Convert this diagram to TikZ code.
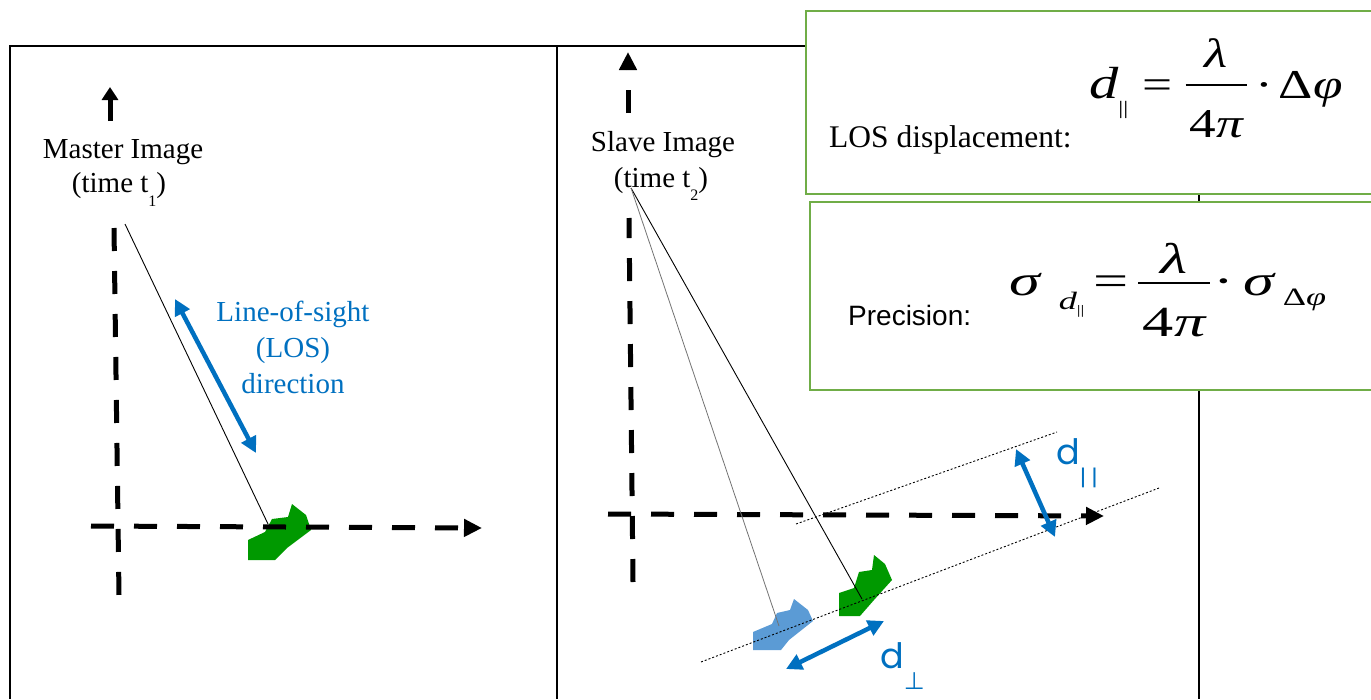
\documentclass[tikz,border=0pt]{standalone}
\usepackage{graphicx}
\usepackage{fontspec}
\setmainfont{Liberation Serif}
\newfontfamily\arialfont{Liberation Sans}
\newfontfamily\gothfont{Poppins}
\newfontfamily\djfont{DejaVu Sans}
\usetikzlibrary{arrows.meta}
\newcommand\fsz[1]{\fontsize{#1}{#1}\selectfont}
% #1 numerator, #2 denominator, #3 numerator raise, #4 denominator drop, #5 bar height
\newcommand\myfrac[5]{\setbox0\hbox{#1}\setbox2\hbox{#2}%
  \dimen0=\ifdim\wd0>\wd2 \wd0\else\wd2\fi
  \advance\dimen0 by 6pt
  \kern2pt\rlap{\raisebox{#3}{\hbox to\dimen0{\hss\box0\hss}}}%
  \rlap{\raisebox{-#4}{\hbox to\dimen0{\hss\box2\hss}}}%
  \raisebox{#5}{\rule{\dimen0}{2pt}}\kern2pt}
\definecolor{losblue}{RGB}{0,112,192}
\definecolor{lightblue}{RGB}{91,155,213}
\definecolor{shapegreen}{RGB}{0,153,0}
\definecolor{boxgreen}{RGB}{112,173,71}
\begin{document}
\begin{tikzpicture}[x=1pt,y=-1pt,
  frame/.style={line width=2.5pt,black},
  axisarrow/.style={line width=5pt,dash pattern=on 23pt off 20pt,-{Triangle[length=18pt,width=17pt]}},
  axisplain/.style={line width=5pt,dash pattern=on 23pt off 20pt},
  sight/.style={line width=0.9pt,black},
  faint/.style={line width=0.8pt,black!55},
  guide/.style={line width=0.9pt,dash pattern=on 2pt off 2pt,black},
  bluearr/.style={line width=4.5pt,losblue,{Triangle[length=16pt,width=16pt]}-{Triangle[length=16pt,width=16pt]}},
  eqbox/.style={draw=boxgreen,line width=2.5pt,fill=white},
  serif/.style={font=\fsz{29},inner sep=0pt},
  bluetext/.style={font=\fsz{29},inner sep=0pt,text=losblue},
]
\useasboundingbox (0,0) rectangle (1371,699);
% frame
\draw[frame] (10,699) -- (10,46) -- (1199,46) -- (1199,699);
\draw[frame] (557,46) -- (557,699);
% shapes
\fill[shapegreen] (248,540) -- (248,560) -- (275,560) -- (287,548) -- (311,530) -- (306,515) -- (292,504) -- (288,517) -- (272,519) -- (265,532) -- cycle;
\fill[shapegreen] (839,593) -- (839,616) -- (860,616) -- (874,600) -- (892,580) -- (885,564) -- (874,555) -- (872,570) -- (859,572) -- (854,588) -- cycle;
\fill[lightblue] (753,632) -- (753,650) -- (781,650) -- (789,640) -- (813,621) -- (808,610) -- (794,599) -- (790,610) -- (777,613) -- (772,624) -- cycle;
% axes
\draw[line width=5pt,-{Triangle[length=13pt,width=16pt]}] (110,121) -- (110,87);
\draw[axisplain] (114,228) -- (119,595);
\draw[axisarrow] (91,526) -- (482,528);
\draw[axisarrow] (628,113) -- (628,52);
\draw[axisplain] (633,582) -- (629,218);
\draw[axisarrow] (608,514) -- (1104,516);
% labels
\node[serif,anchor=base] (master) at (123,158) {Master Image};
\node[serif,anchor=base] (tone) at (119,192) {(time t\raisebox{-14pt}{\fsz{16}1})};
\node[serif,anchor=base] (slave) at (663,151) {Slave Image};
\node[serif,anchor=base] (ttwo) at (661,187) {(time t\raisebox{-13pt}{\fsz{16}2})};
% points
\coordinate (m) at (125,224);
\coordinate (s) at (631,188);
\coordinate (gl) at (268,524);
\coordinate (gr) at (862,599);
\coordinate (bl) at (779,626);
\draw[sight] (m) -- (gl);
\draw[sight] (s) -- (gr);
\draw[faint] (s) -- (bl);
% guides
\coordinate (g1a) at (701,662);
\coordinate (g1b) at (1159,488);
\coordinate (g2a) at (796,524);
\coordinate (g2b) at (1057,432);
\draw[guide] (g1a) -- (g1b);
\draw[guide] (g2a) -- (g2b);
% blue arrows
\coordinate (la1) at (175,299);
\coordinate (la2) at (256,453);
\draw[bluearr] (la1) -- (la2);
\coordinate (pa1) at (1016,449);
\coordinate (pa2) at (1055,537);
\draw[bluearr] (pa1) -- (pa2);
\coordinate (qa1) at (786,669);
\coordinate (qa2) at (884,621);
\draw[bluearr] (qa1) -- (qa2);
\node[bluetext,anchor=base] (los1) at (293,321) {Line-of-sight};
\node[bluetext,anchor=base] (los2) at (293,357) {(LOS)};
\node[bluetext,anchor=base] (los3) at (293,393) {direction};
\node[anchor=base west,inner sep=0pt,text=losblue,font=\gothfont\fsz{35}] (dpar) at (1056,464) {d\raisebox{-21pt}{\fsz{22}|\kern5pt|}};
\node[anchor=base west,inner sep=0pt,text=losblue,font=\gothfont\fsz{35}] (dperp) at (880,668) {d\raisebox{-21pt}{\djfont\fsz{24}⊥}};
% formula boxes
\path[eqbox] (806,11) rectangle (1390,194);
\path[eqbox] (810,202) rectangle (1390,390);
\node[anchor=base west,inner sep=0pt,font=\fsz{31.5}] (losd) at (829,147) {LOS displacement:};
\node[anchor=base west,inner sep=0pt,font=\arialfont\fsz{28}] (prec) at (848,325) {Precision:};
\node[anchor=base west,inner sep=0pt] (f1) at (1089,98) {\fsz{41}\scalebox{1.3}[1]{{\fsz{45}\itshape d}\kern0pt\raisebox{-16pt}{\fsz{19}\upshape ||}\kern11pt\upshape =\kern8pt\myfrac{\itshape λ}{\upshape 4\itshape π}{31pt}{39pt}{12pt}\kern5pt\upshape ·\kern4pt Δ\itshape φ}};
\node[anchor=base west,inner sep=0pt] (f2) at (1009,295) {\fsz{43}\scalebox{1.45}[1]{\itshape σ\kern13pt\raisebox{-14pt}{\fsz{25}\itshape d\raisebox{-5pt}{\fsz{13}\upshape ||}}\kern6pt\upshape =\kern5pt\myfrac{\itshape λ}{\upshape 4\itshape π}{22pt}{41pt}{11pt}\kern1pt\upshape ·\kern6pt\itshape σ\kern6pt\raisebox{-10pt}{\fsz{25}\upshape Δ\itshape φ}}};
\end{tikzpicture}
\end{document}
